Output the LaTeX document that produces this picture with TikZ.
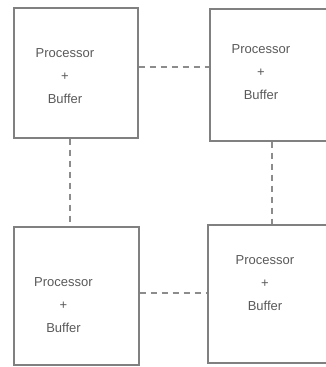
\documentclass[tikz,border=0pt]{standalone}
\usepackage{fontspec}
\setmainfont{Liberation Sans}
\begin{document}
\begin{tikzpicture}[x=1pt,y=-1pt,
  pbox/.style={draw=black!50,line width=1.4pt,rectangle,inner sep=0pt},
  plabel/.style={text=black!65,font=\fontsize{13}{23}\selectfont,align=center,inner sep=0pt},
  link/.style={draw=black!45,line width=1.3pt,dash pattern=on 6pt off 5pt}]
\useasboundingbox (0,0) rectangle (326,367);
\clip (0,0) rectangle (326,367);
% four processor/buffer units
\node[pbox,minimum width=124pt,minimum height=130pt] (tl) at (76,73) {};
\node[pbox,minimum width=124pt,minimum height=132pt] (tr) at (272,75) {};
\node[pbox,minimum width=125pt,minimum height=138pt] (bl) at (76.5,296) {};
\node[pbox,minimum width=126pt,minimum height=138pt] (br) at (271,294) {};
% unit labels
\node[plabel] (tlt) at (65,76) {Processor\\+\\Buffer};
\node[plabel] (trt) at (261,72) {Processor\\+\\Buffer};
\node[plabel] (blt) at (63.5,305) {Processor\\+\\Buffer};
\node[plabel] (brt) at (265,283) {Processor\\+\\Buffer};
% dashed interconnect links
\draw[link] ([yshift=6pt]tl.east) -- ([yshift=6pt]tl.east -| tr.west);
\draw[link] ([yshift=3pt]bl.east) -- ([yshift=3pt]bl.east -| br.west);
\draw[link] ([xshift=-6pt]tl.south) -- ([xshift=-6pt]tl.south |- bl.north);
\draw[link] (tr.south) -- (tr.south |- br.north);
\end{tikzpicture}
\end{document}
